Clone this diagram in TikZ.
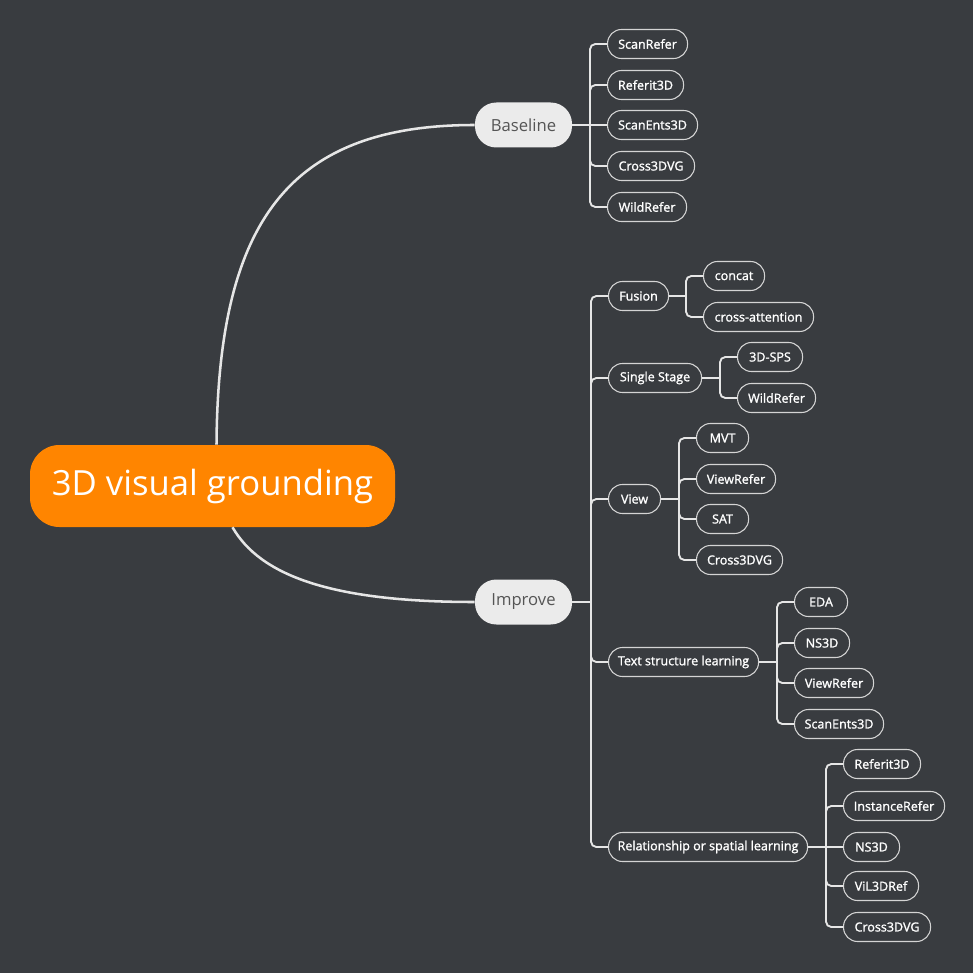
\documentclass[tikz,border=0pt]{standalone}
\usepackage{fontspec}
\setmainfont{Open Sans}
\newfontfamily\semifont{Open Sans}[FakeBold=1.4]
\usetikzlibrary{calc}
\definecolor{bgc}{HTML}{393C40}
\definecolor{orng}{HTML}{FF8500}
\definecolor{lnc}{HTML}{E6E6E6}
\definecolor{bdc}{HTML}{D4D4D4}
\definecolor{l1fill}{HTML}{EBEBEB}
\definecolor{l1text}{HTML}{555555}
\tikzset{
  rootbox/.style={fill=orng, text=white, rounded corners=22pt, minimum height=82*0.75pt, minimum width=365*0.75pt, inner sep=0pt, font=\fontsize{26}{30}\selectfont},
  lonebox/.style={fill=l1fill, text=l1text, rounded corners=16pt, minimum height=45*0.75pt, minimum width=97*0.75pt, inner sep=0pt, font=\fontsize{12.5}{15}\selectfont},
  leaf/.style={draw=bdc, line width=0.8pt, fill=bgc, text=white, rounded corners=10.5pt, minimum height=29*0.75pt, minimum width=#1*0.75pt, inner sep=0pt, anchor=west, font=\semifont\fontsize{9.4}{11}\selectfont},
  curve/.style={draw=lnc, line width=1.9pt},
  stub/.style={draw=lnc, line width=2.2pt},
  conn/.style={draw=lnc, line width=1.4pt, rounded corners=4pt},
}
\begin{document}
\begin{tikzpicture}[x=0.75pt,y=-0.75pt]
\fill[bgc] (0,0) rectangle (973,973);
\useasboundingbox (0,0) rectangle (973,973);

\node[rootbox] (root) at (212.5,486) {3D visual grounding};
\node[lonebox] (base) at (523.5,125) {Baseline};
\node[lonebox] (impr) at (523.5,602) {Improve};

\draw[curve] ($(root.north)+(4,0)$) .. controls (218,220) and (290,125) .. (base.west);
\draw[curve] ($(root.south)+(20,0)$) .. controls (260,575) and (330,602) .. (impr.west);

% Baseline children
\coordinate (bb) at (590,0);
\node[leaf=80] (b1) at (607,44) {ScanRefer};
\node[leaf=76] (b2) at (607,85) {Referit3D};
\node[leaf=90] (b3) at (607,125) {ScanEnts3D};
\node[leaf=87] (b4) at (607,166) {Cross3DVG};
\node[leaf=79] (b5) at (607,207) {WildRefer};
\draw[stub] (base.east) -- (base.east -| bb);
\foreach \c in {b1,b2,b4,b5} \draw[conn] (base.east -| bb) |- (\c.west);
\draw[conn] (base.east -| bb) -- (b3.west);

% Improve children
\coordinate (ib) at (591,0);
\node[leaf=60] (f) at (608,296) {Fusion};
\node[leaf=93] (s) at (608,378) {Single Stage};
\node[leaf=52] (v) at (608,499) {View};
\node[leaf=150] (t) at (608,662) {Text structure learning};
\node[leaf=199] (r) at (608,847) {Relationship or spatial learning};
\draw[stub] (impr.east) -- (impr.east -| ib);
\foreach \c in {f,s,v,t,r} \draw[conn] (impr.east -| ib) |- (\c.west);

% Fusion
\coordinate (fb) at (686,0);
\node[leaf=61] (f1) at (703,276) {concat};
\node[leaf=110] (f2) at (703,317) {cross-attention};
\draw[stub] (f.east) -- (f.east -| fb);
\foreach \c in {f1,f2} \draw[conn] (f.east -| fb) |- (\c.west);

% Single Stage
\coordinate (sb) at (720,0);
\node[leaf=65] (s1) at (737,357) {3D-SPS};
\node[leaf=78] (s2) at (737,398) {WildRefer};
\draw[stub] (s.east) -- (s.east -| sb);
\foreach \c in {s1,s2} \draw[conn] (s.east -| sb) |- (\c.west);

% View
\coordinate (vb) at (679,0);
\node[leaf=52] (v1) at (696,438) {MVT};
\node[leaf=79] (v2) at (696,479) {ViewRefer};
\node[leaf=52] (v3) at (696,519) {SAT};
\node[leaf=86] (v4) at (696,560) {Cross3DVG};
\draw[stub] (v.east) -- (v.east -| vb);
\foreach \c in {v1,v2,v3,v4} \draw[conn] (v.east -| vb) |- (\c.west);

% Text structure learning
\coordinate (tb) at (777,0);
\node[leaf=53] (t1) at (794,602) {EDA};
\node[leaf=55] (t2) at (794,643) {NS3D};
\node[leaf=79] (t3) at (794,683) {ViewRefer};
\node[leaf=89] (t4) at (794,724) {ScanEnts3D};
\draw[stub] (t.east) -- (t.east -| tb);
\foreach \c in {t1,t2,t3,t4} \draw[conn] (t.east -| tb) |- (\c.west);

% Relationship
\coordinate (rb) at (826,0);
\node[leaf=77] (r1) at (843,764) {Referit3D};
\node[leaf=101] (r2) at (843,806) {InstanceRefer};
\node[leaf=56] (r3) at (843,847) {NS3D};
\node[leaf=75] (r4) at (843,886) {ViL3DRef};
\node[leaf=87] (r5) at (843,927) {Cross3DVG};
\draw[stub] (r.east) -- (r.east -| rb);
\foreach \c in {r1,r2,r4,r5} \draw[conn] (r.east -| rb) |- (\c.west);
\draw[conn] (r.east -| rb) -- (r3.west);
\end{tikzpicture}
\end{document}
